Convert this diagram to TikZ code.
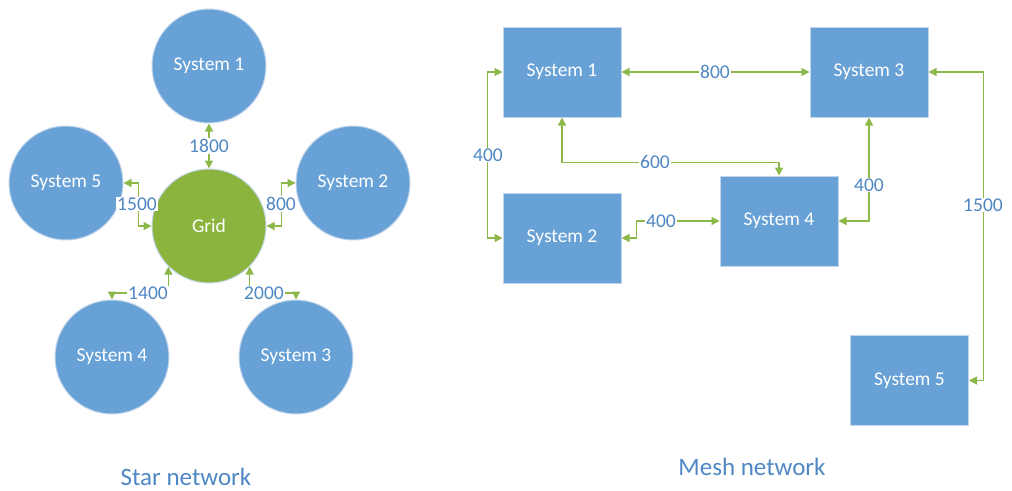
\documentclass[tikz,border=0pt]{standalone}
\usepackage{fontspec}
\setmainfont{Carlito}
\usetikzlibrary{arrows.meta}
\definecolor{sysblue}{HTML}{68A1D6}
\definecolor{sysedge}{HTML}{C3D6EC}
\definecolor{gridgreen}{HTML}{8BB43F}
\definecolor{linegreen}{HTML}{8CB84A}
\definecolor{labblue}{HTML}{4F87C4}
\tikzset{
  sysc/.style={circle, fill=sysblue, draw=sysedge, line width=1pt, minimum size=114pt, inner sep=0pt, text=white, font=\fontsize{19.5}{22}\selectfont},
  gridc/.style={sysc, fill=gridgreen},
  sysr/.style={rectangle, fill=sysblue, draw=sysedge, line width=1pt, minimum width=118pt, minimum height=90pt, inner sep=0pt, text=white, font=\fontsize{19.5}{22}\selectfont},
  conn/.style={draw=linegreen, line width=1.3pt, {Triangle[length=8pt,width=8pt]}-{Triangle[length=8pt,width=8pt]}},
  lab/.style={fill=white, text=labblue, inner sep=1pt, font=\fontsize{19.5}{22}\selectfont},
  title/.style={text=labblue, inner sep=0pt, font=\fontsize{25}{28}\selectfont}
}
\begin{document}
\begin{tikzpicture}[x=1pt,y=-1pt]
\useasboundingbox (0,0) rectangle (1012,490);
% Star network
\node[sysc] (s1) at (209,66) {System 1};
\node[sysc] (s5) at (66,183) {System 5};
\node[sysc] (s2) at (353,183) {System 2};
\node[gridc] (grid) at (209,226) {Grid};
\node[sysc] (s4) at (112,357) {System 4};
\node[sysc] (s3) at (296,357) {System 3};
\coordinate (c1) at (150,293);
\coordinate (c2) at (265,293);
\draw[conn] (grid.north) -- (s1.south);
\draw[conn] (s5.east) -- ++(15,0) |- (grid.west);
\draw[conn] (grid.east) -- ++(15,0) |- (s2.west);
\draw[conn] (grid.south west) |- (c1) -| (s4.north);
\draw[conn] (grid.south east) |- (c2) -| (s3.north);
\node[lab] (l1800) at (209,146) {1800};
\node[lab] (l1500) at (137,204) {1500};
\node[lab] (l800) at (281,204) {800};
\node[lab] (l1400) at (148,293) {1400};
\node[lab] (l2000) at (264,293) {2000};
\node[title] (tstar) at (186,477) {Star network};
% Mesh network
\node[sysr] (m1) at (562,72) {System 1};
\node[sysr] (m3) at (869,72) {System 3};
\node[sysr] (m2) at (562,238) {System 2};
\node[sysr] (m4) at (779,221) {System 4};
\node[sysr] (m5) at (909.5,380.5) {System 5};
\draw[conn] (m1.east) -- (m3.west);
\draw[conn] (m1.west) -- ++(-15,0) |- (m2.west);
\draw[conn] (m1.south) -- ++(0,45) -| (m4.north);
\draw[conn] (m2.east) -- ++(15,0) |- (m4.west);
\draw[conn] (m3.south) |- (m4.east);
\draw[conn] (m3.east) -- ++(55,0) |- (m5.east);
\node[lab] (l800m) at (715,72) {800};
\node[lab] (l400a) at (488,155) {400};
\node[lab] (l600) at (655,162) {600};
\node[lab] (l400b) at (661,221) {400};
\node[lab] (l400c) at (869,185) {400};
\node[lab] (l1500m) at (983,205) {1500};
\node[title] (tmesh) at (752,467) {Mesh network};
\end{tikzpicture}
\end{document}
